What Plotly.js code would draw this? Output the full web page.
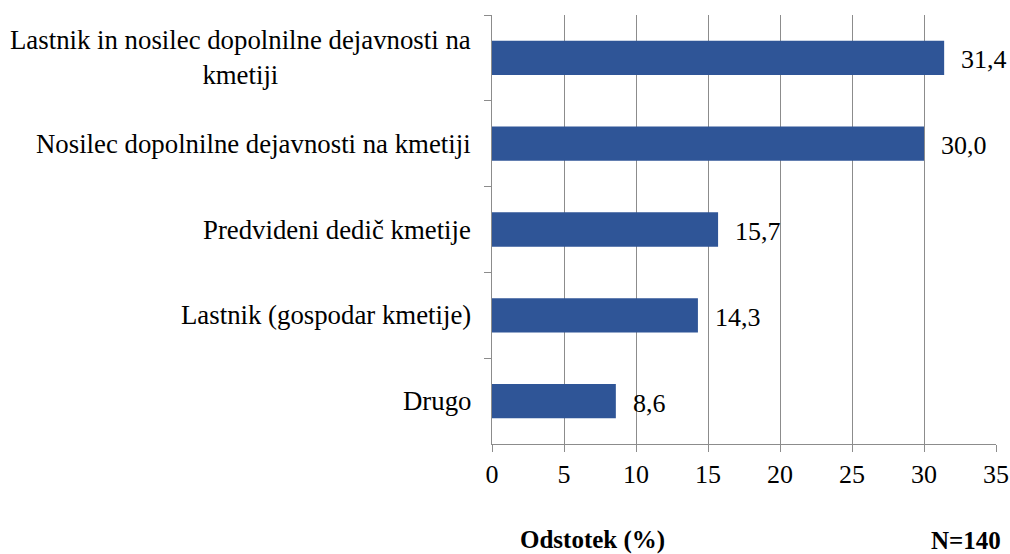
<!DOCTYPE html>
<html>
<head>
<meta charset="utf-8">
<script src="https://cdn.plot.ly/plotly-3.0.1.min.js"></script>
<style>html,body{margin:0;padding:0;background:#fff;}#chart{width:1010px;height:554px;}</style>
</head>
<body>
<div id="chart"></div>
<script>
var categories = [
  "Lastnik in nosilec dopolnilne dejavnosti na<br>kmetiji",
  "Nosilec dopolnilne dejavnosti na kmetiji",
  "Predvideni dedič kmetije",
  "Lastnik (gospodar kmetije)",
  "Drugo"
];
var values = [31.4, 30.0, 15.7, 14.3, 8.6];
var xTickVals = [0, 5, 10, 15, 20, 25, 30, 35];
var axisTitle = "Odstotek (%)";
var sampleNote = "N=140";

var FONT = "Liberation Serif";
var FS = 26.8;
var labels = values.map(function (v) { return v.toFixed(1).replace('.', ','); });
var catIds = categories.map(function (c, i) { return "c" + i; });

var trace = {
  type: 'bar',
  orientation: 'h',
  x: values,
  y: catIds,
  width: 0.4,
  marker: { color: '#2F5597', line: { width: 0 } },
  cliponaxis: false,
  hoverinfo: 'none'
};

var annotations = categories.map(function (c, i) {
  return {
    xref: 'paper', yref: 'y', x: 0, y: catIds[i],
    xanchor: 'right', yanchor: 'middle', xshift: -19,
    text: c, align: 'center', showarrow: false,
    font: { family: FONT, size: FS, color: '#000' }
  };
});
values.forEach(function (v, i) {
  annotations.push({
    xref: 'x', yref: 'y', x: v, y: catIds[i],
    xanchor: 'left', yanchor: 'middle', xshift: 15, yshift: -2,
    text: labels[i], showarrow: false,
    font: { family: FONT, size: 26, color: '#000' }
  });
});
annotations.push({
  xref: 'paper', yref: 'paper', x: (592 - 492) / 504, y: 0, yshift: -96,
  xanchor: 'center', yanchor: 'middle', text: '<b>' + axisTitle + '</b>', showarrow: false,
  font: { family: FONT, size: 25, color: '#000' }
});
annotations.push({
  xref: 'paper', yref: 'paper', x: (1003 - 492) / 504, y: 0, yshift: -96,
  xanchor: 'right', yanchor: 'middle', text: '<b>' + sampleNote + '</b>', showarrow: false,
  font: { family: FONT, size: 25, color: '#000' }
});

var layout = {
  width: 1010, height: 554,
  margin: { l: 492, r: 14, t: 15, b: 110, pad: 0 },
  paper_bgcolor: '#fff', plot_bgcolor: '#fff',
  showlegend: false,
  font: { family: FONT, size: 26, color: '#000' },
  xaxis: {
    range: [0, 35], tickvals: xTickVals, ticktext: xTickVals.map(String),
    showgrid: true, gridcolor: '#8C8C8C', gridwidth: 1,
    zeroline: false, showline: true, linecolor: '#8C8C8C', linewidth: 1,
    ticks: 'outside', ticklen: 7, tickcolor: '#8C8C8C', tickwidth: 1,
    tickfont: { family: FONT, size: 26, color: '#000' },
    fixedrange: true
  },
  yaxis: {
    type: 'category', autorange: 'reversed',
    showticklabels: false, tickson: 'boundaries',
    ticks: 'outside', ticklen: 7, tickcolor: '#8C8C8C', tickwidth: 1,
    showline: true, linecolor: '#8C8C8C', linewidth: 1,
    showgrid: false, zeroline: false, fixedrange: true
  },
  annotations: annotations
};

Plotly.newPlot('chart', [trace], layout, { displayModeBar: false, staticPlot: true });
</script>
</body>
</html>
